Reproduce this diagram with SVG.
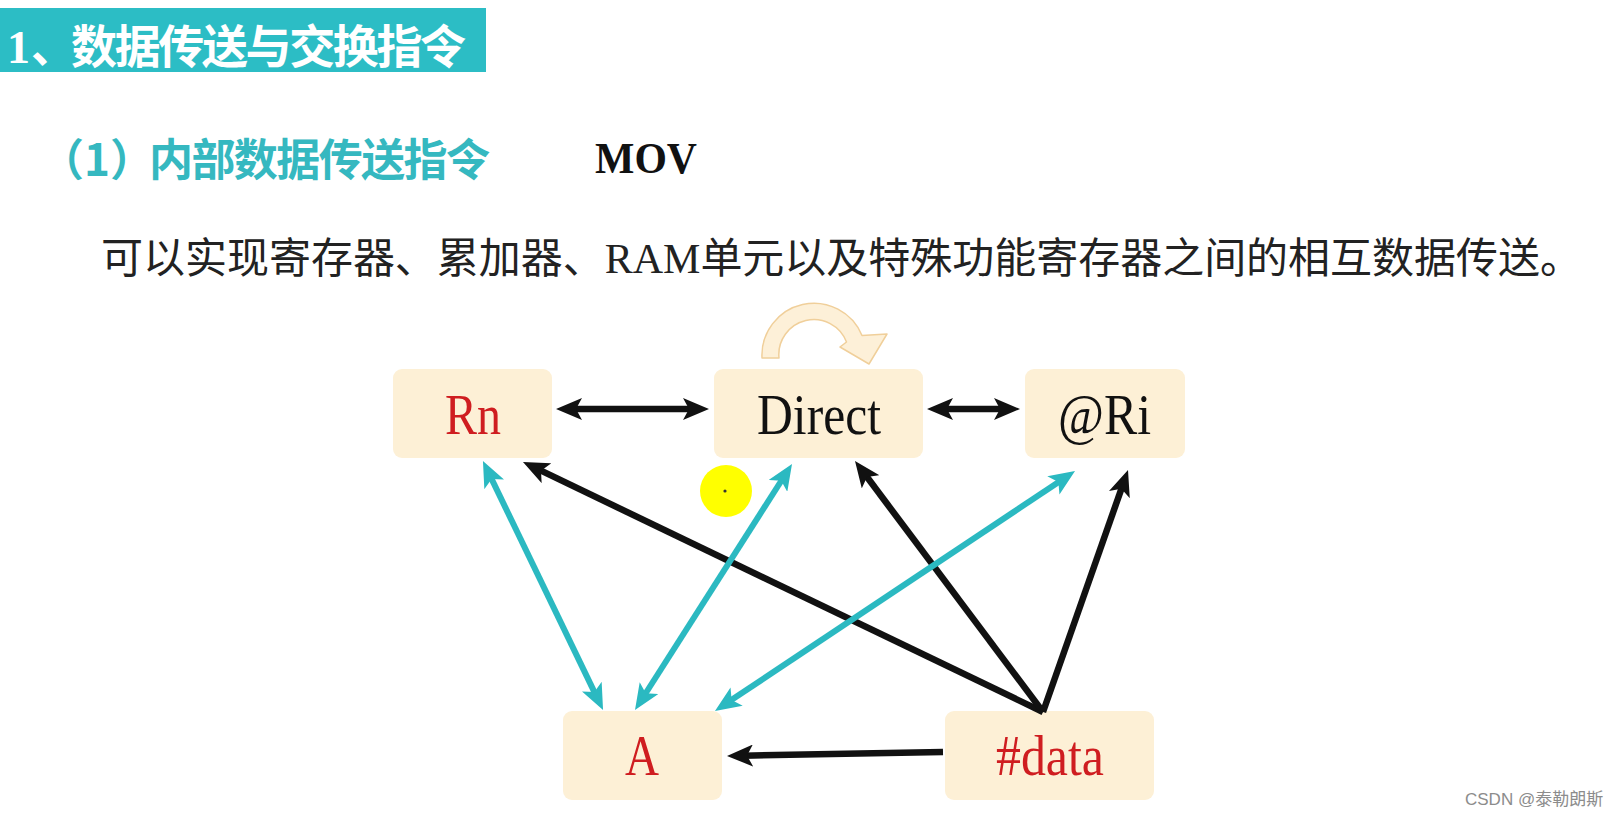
<svg xmlns="http://www.w3.org/2000/svg" width="1616" height="816" viewBox="0 0 1616 816">
<style>
.cjk{font-family:"Noto Sans CJK SC","Noto Sans",sans-serif}
.ser{font-family:"Liberation Serif","Times New Roman",serif}
.box{fill:#fdf0d6}
.lbl{font-family:"Liberation Serif","Times New Roman",serif;font-size:56px}
.red{fill:#cf1d20}
.blk{fill:#111111}
.cb{stroke:#111111;stroke-width:6.5;fill:none}
.cc{stroke:#2bb9c1;stroke-width:6;fill:none}
</style>
<defs>
<marker id="hb" viewBox="0 0 26 22" markerWidth="26" markerHeight="22" refX="10" refY="11" orient="auto-start-reverse" markerUnits="userSpaceOnUse">
<path d="M0,0 L26,11 L0,22 L6,11 Z" fill="#111111"/>
</marker>
<marker id="hc" viewBox="0 0 26 22" markerWidth="26" markerHeight="22" refX="10" refY="11" orient="auto-start-reverse" markerUnits="userSpaceOnUse">
<path d="M0,0 L26,11 L0,22 L6,11 Z" fill="#2bb9c1"/>
</marker>
</defs>
<rect width="1616" height="816" fill="#ffffff"/>
<g id="header">
<rect x="0" y="8" width="486" height="64" fill="#2cbdc5"/>
<text y="63" fill="#ffffff" font-weight="bold"><tspan x="7" class="ser" font-size="46">1</tspan><tspan x="31" class="cjk" font-size="44">、</tspan><tspan x="71" class="cjk" font-size="46" textLength="395" lengthAdjust="spacing">数据传送与交换指令</tspan></text>
</g>
<g id="subtitle">
<text y="176" fill="#35b8c0" font-weight="bold" class="cjk" font-size="44"><tspan x="40">（1）</tspan><tspan x="149" textLength="341" lengthAdjust="spacing">内部数据传送指令</tspan></text>
<text x="595" y="173" class="ser" font-weight="bold" font-size="44" fill="#111111" textLength="102" lengthAdjust="spacingAndGlyphs">MOV</text>
</g>
<g id="description">
<text x="101" y="273" font-size="42" fill="#222222" class="cjk" textLength="1481" lengthAdjust="spacing">可以实现寄存器、累加器、<tspan class="ser">RAM</tspan>单元以及特殊功能寄存器之间的相互数据传送。</text>
</g>
<g id="loop">
<path d="M762,358 A52,52 0 0 1 862,335.5 L887,334 L869,364 L840,347 L846.5,342 A35,35 0 0 0 779,358 Z" fill="#fdf0d8" stroke="#f0cf9a" stroke-width="1.5" stroke-linejoin="round"/>
</g>
<g id="node-Rn">
<rect class="box" x="393" y="369" width="159" height="89" rx="9"/>
<text class="lbl red" x="445" y="434" textLength="56" lengthAdjust="spacingAndGlyphs">Rn</text>
</g>
<g id="node-Direct">
<rect class="box" x="714" y="369" width="209" height="89" rx="9"/>
<text class="lbl blk" x="757" y="434" textLength="124" lengthAdjust="spacingAndGlyphs">Direct</text>
</g>
<g id="node-Ri">
<rect class="box" x="1025" y="369" width="160" height="89" rx="9"/>
<text class="lbl blk" x="1058" y="434" textLength="93" lengthAdjust="spacingAndGlyphs">@Ri</text>
</g>
<g id="node-A">
<rect class="box" x="563" y="711" width="159" height="89" rx="9"/>
<text class="lbl red" x="625" y="775" textLength="34" lengthAdjust="spacingAndGlyphs">A</text>
</g>
<g id="node-data">
<rect class="box" x="945" y="711" width="209" height="89" rx="9"/>
<text class="lbl red" x="996" y="775" textLength="108" lengthAdjust="spacingAndGlyphs">#data</text>
</g>
<g id="connectors">
<line class="cb" x1="572" y1="409" x2="693" y2="409" marker-start="url(#hb)" marker-end="url(#hb)"/>
<line class="cb" x1="943" y1="409" x2="1004" y2="409" marker-start="url(#hb)" marker-end="url(#hb)"/>
<line class="cb" x1="1043" y1="712" x2="537.4" y2="468.9" marker-end="url(#hb)"/>
<line class="cb" x1="1043" y1="712" x2="864.6" y2="473.8" marker-end="url(#hb)"/>
<line class="cb" x1="1043" y1="712" x2="1122.7" y2="485.1" marker-end="url(#hb)"/>
<line class="cb" x1="943" y1="752" x2="743" y2="755.7" marker-end="url(#hb)"/>
<line class="cc" x1="489.9" y1="475.4" x2="596.1" y2="695.6" marker-start="url(#hc)" marker-end="url(#hc)"/>
<line class="cc" x1="783.4" y1="477.5" x2="643.6" y2="696.5" marker-start="url(#hc)" marker-end="url(#hc)"/>
<line class="cc" x1="1061.7" y1="479.9" x2="728.3" y2="702.1" marker-start="url(#hc)" marker-end="url(#hc)"/>
</g>
<g id="pointer">
<circle cx="726" cy="491" r="26" fill="#ffff00"/>
<circle cx="725" cy="491" r="1.6" fill="#333333"/>
</g>
<text x="1465" y="805" font-size="17" fill="#8c8c8c" font-family="'Liberation Sans','Noto Sans CJK SC',sans-serif">CSDN @泰勒朗斯</text>
</svg>
